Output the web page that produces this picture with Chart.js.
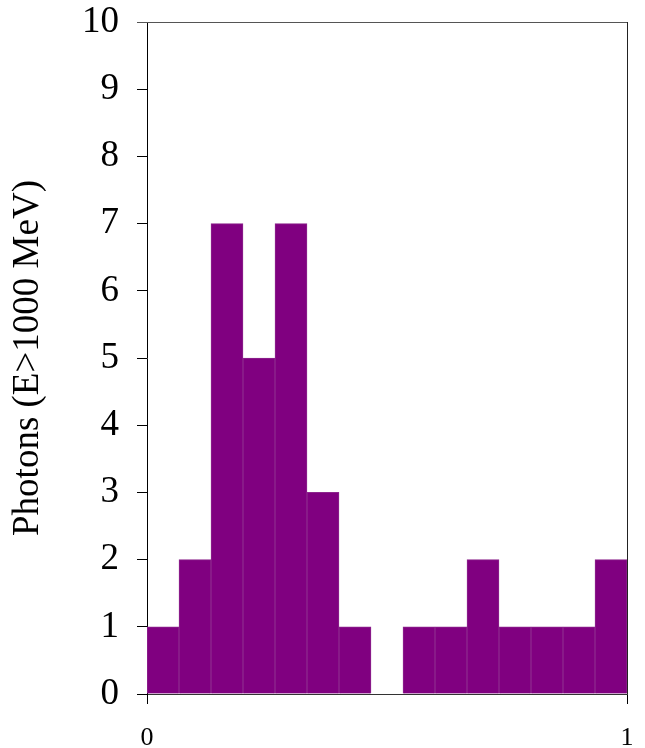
<!DOCTYPE html>
<html>
<head>
<meta charset="utf-8">
<script src="https://cdn.jsdelivr.net/npm/chart.js"></script>
<style>
body { margin: 0; background: #fff; }
#wrap { width: 645px; height: 748px; }
</style>
</head>
<body>
<div id="wrap"><canvas id="histChart"></canvas></div>
<script>
// 15 phase bins from 0 to 1
var binEdges = [0, 1/15, 2/15, 3/15, 4/15, 5/15, 6/15, 7/15, 8/15, 9/15, 10/15, 11/15, 12/15, 13/15, 14/15, 1];
var counts = [1, 2, 7, 5, 7, 3, 1, 0, 1, 1, 2, 1, 1, 1, 2];
var xTicks = [0, 1];
var yTicks = [0, 1, 2, 3, 4, 5, 6, 7, 8, 9, 10];
var yTitle = "Photons (E>1000 MeV)";

var points = counts.map(function (c, i) {
    return { x: (binEdges[i] + binEdges[i + 1]) / 2, y: c };
});

var frame = {
    id: "frame",
    afterDraw: function (chart) {
        var a = chart.chartArea, ctx = chart.ctx;
        ctx.save();
        ctx.lineWidth = 1;
        ctx.strokeStyle = "#555";
        ctx.beginPath();
        ctx.moveTo(a.left - 10, a.top + 0.5);
        ctx.lineTo(a.right, a.top + 0.5);
        ctx.stroke();
        ctx.strokeStyle = "#222";
        ctx.beginPath();
        ctx.moveTo(a.right + 0.5, a.top);
        ctx.lineTo(a.right + 0.5, a.bottom);
        ctx.stroke();
        ctx.restore();
    }
};

var serif = '"Liberation Serif", serif';

new Chart(document.getElementById("histChart"), {
    type: "bar",
    data: {
        datasets: [{
            data: points,
            backgroundColor: "#800080",
            borderColor: "#8d268d",
            borderWidth: 1,
            barPercentage: 1,
            categoryPercentage: 1
        }]
    },
    options: {
        responsive: true,
        maintainAspectRatio: false,
        animation: false,
        layout: { padding: { top: 22, right: 18, left: 0, bottom: 0 } },
        plugins: { legend: { display: false }, tooltip: { enabled: false } },
        scales: {
            x: {
                type: "linear",
                min: 0,
                max: 1,
                offset: false,
                afterFit: function (s) { s.height = 54; s.paddingLeft = 0; s.paddingRight = 0; },
                afterBuildTicks: function (s) { s.ticks = xTicks.map(function (v) { return { value: v }; }); },
                ticks: { color: "#000", font: { family: serif, size: 26 }, padding: 19, maxRotation: 0 },
                grid: { offset: false, drawOnChartArea: false, drawTicks: true, tickLength: 10, color: "#000" },
                border: { display: true, color: "#333", width: 1 }
            },
            y: {
                min: 0,
                max: 10,
                afterFit: function (s) { s.width = 147; s.paddingTop = 0; s.paddingBottom = 0; },
                afterBuildTicks: function (s) { s.ticks = yTicks.map(function (v) { return { value: v }; }); },
                ticks: { color: "#000", font: { family: serif, size: 37 }, padding: 18 },
                grid: { drawOnChartArea: false, drawTicks: true, tickLength: 10, color: "#000" },
                border: { display: true, color: "#000", width: 1 },
                title: { display: true, text: yTitle, color: "#000", font: { family: serif, size: 37, weight: "normal" }, padding: { top: 6, bottom: 0 } }
            }
        }
    },
    plugins: [frame]
});
</script>
</body>
</html>
